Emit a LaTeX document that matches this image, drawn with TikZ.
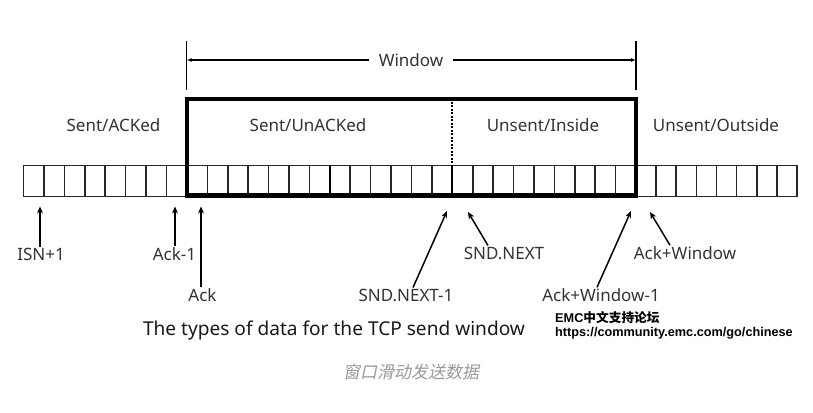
\documentclass[tikz,border=0pt]{standalone}
\usepackage{fontspec}
\setmainfont{Noto Sans}
\newfontfamily\cjk{Noto Sans CJK SC}
\newfontfamily\cjkit[FakeSlant=0.2]{Noto Sans CJK SC}
\newfontfamily\emcfont{Liberation Sans}
\usetikzlibrary{arrows.meta,calc}
\definecolor{txt}{HTML}{333333}
\definecolor{capgray}{HTML}{9A9A9A}
\begin{document}
\begin{tikzpicture}[x=1pt,y=-1pt,
  lbl/.style={font=\fontsize{17}{20}\selectfont, text=txt, inner sep=1pt},
  cellline/.style={line width=1.6pt, draw=black!85},
  boxline/.style={line width=4.5pt, line cap=rect},
  tick/.style={line width=1.3pt},
  dimarr/.style={line width=1.3pt, -{Latex[length=5pt,width=4pt]}},
  ptr/.style={line width=1.5pt, -{Stealth[length=7pt,width=6pt]}},
  emc/.style={font=\fontsize{12.7}{14}\selectfont\emcfont\bfseries, text=black, inner sep=0pt, anchor=west}]
\useasboundingbox (0,0) rectangle (813,412);
\fill[white] (0,0) rectangle (813,412);

% window dimension
\draw[tick] (186.7,41.5) -- (186.7,90);
\draw[tick] (636,41.5) -- (636,90);
\node[lbl, inner xsep=10pt] (win) at (411,60) {Window};
\coordinate (wl) at (186.7,60);
\coordinate (wr) at (636,60);
\draw[dimarr] (win.west) -- (wl);
\draw[dimarr] (win.east) -- (wr);

% region labels
\node[lbl] (sa) at (113.5,125) {Sent/ACKed};
\node[lbl] (su) at (308,125) {Sent/UnACKed};
\node[lbl] (ui) at (543,125) {Unsent/Inside};
\node[lbl] (uo) at (716,125) {Unsent/Outside};

% strip of cells
\draw[cellline] (23.5,165.5) rectangle (797,196.5);
\foreach \k in {1,...,7} \draw[cellline] ({23.5+\k*20.4375},165.5) -- ++(0,31);
\foreach \k in {1,...,21} \draw[cellline] ({187+\k*20.409},165.5) -- ++(0,31);
\foreach \k in {1,...,7} \draw[cellline] ({636+\k*20.125},165.5) -- ++(0,31);
\draw[line width=2.6pt] (329.9,165.5) -- (329.9,196);
\draw[line width=2.6pt] (452,165.5) -- (452,196);

% window box
\draw[boxline] (187.2,99) rectangle (635.8,195.5);
\draw[line width=1.6pt, dash pattern=on 2pt off 1.5pt] (452,101.5) -- (452,165.5);

% pointers
\node[lbl] (isn) at (41,254) {ISN+1};
\coordinate (isnT) at (40,206.5);
\draw[ptr] (isn.north -| isnT) -- (isnT);

\node[lbl] (ack1) at (174.5,254) {Ack-1};
\coordinate (ack1T) at (175,206.5);
\draw[ptr] (ack1.north -| ack1T) -- (ack1T);

\node[lbl] (ack) at (202.5,295) {Ack};
\coordinate (ackT) at (201,206.5);
\draw[ptr] (ack.north -| ackT) -- (ackT);

\node[lbl] (sn1) at (406,295) {SND.NEXT-1};
\coordinate (sn1T) at (447,211);
\draw[ptr] ($(sn1.north)+(7,0)$) -- (sn1T);

\node[lbl] (sn) at (504,253) {SND.NEXT};
\coordinate (snT) at (468,212);
\draw[ptr] ($(sn.north)+(-16,0)$) -- (snT);

\node[lbl] (aw1) at (601,295) {Ack+Window-1};
\coordinate (aw1T) at (631,211);
\draw[ptr] ($(aw1.north)+(-4,0)$) -- (aw1T);

\node[lbl] (aw) at (685,253) {Ack+Window};
\coordinate (awT) at (650,212);
\draw[ptr] ($(aw.north)+(-15,0)$) -- (awT);

% title and captions
\node[font=\fontsize{19.1}{22}\selectfont, text=black!90, inner sep=0pt] (title) at (334,330) {The types of data for the TCP send window};
\node[emc] (emc1) at (555,318) {EMC{\cjk\bfseries 中文支持论坛}};
\node[emc] (emc2) at (555,333) {https://community.emc.com/go/chinese};
\node[font=\fontsize{17}{20}\selectfont\cjkit, text=capgray, inner sep=0pt] (cap) at (411,372) {窗口滑动发送数据};
\end{tikzpicture}
\end{document}
